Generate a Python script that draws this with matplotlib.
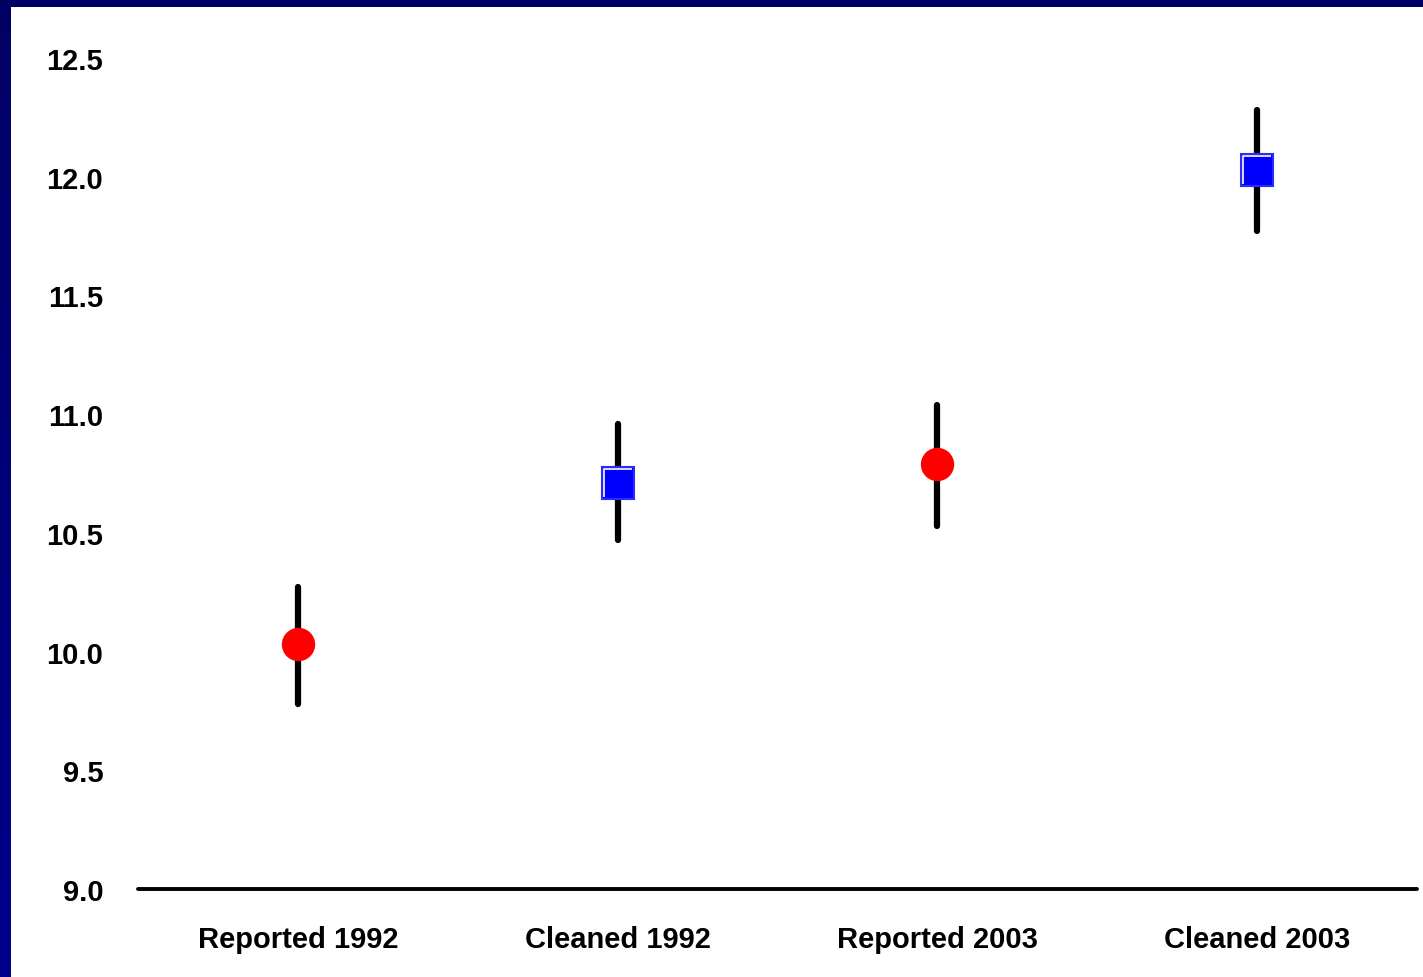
import matplotlib.pyplot as plt
import numpy as np
from matplotlib.path import Path
from matplotlib.patches import Rectangle
from matplotlib.colors import LinearSegmentedColormap

plt.rcParams['font.family'] = ['Liberation Sans', 'DejaVu Sans']
plt.rcParams['font.weight'] = 'bold'

# groups and estimates with the ends of each interval
groups = ['Reported 1992', 'Cleaned 1992', 'Reported 2003', 'Cleaned 2003']
means = [10.03, 10.71, 10.79, 12.03]
lower = [9.78, 10.47, 10.53, 11.77]
upper = [10.27, 10.96, 11.04, 12.28]
kinds = ['reported', 'cleaned', 'reported', 'cleaned']

yticks = [9.0, 9.5, 10.0, 10.5, 11.0, 11.5, 12.0, 12.5]

fig = plt.figure(figsize=(14.23, 9.78), dpi=100)

# navy frame with a slight vertical gradient
bg = fig.add_axes([0, 0, 1, 1], zorder=-10)
grad = np.linspace(0, 1, 256).reshape(-1, 1)
navy = LinearSegmentedColormap.from_list('navy', ['#000064', '#00008c'])
bg.imshow(grad, aspect='auto', cmap=navy, extent=[0, 1, 0, 1], origin='upper')
bg.set_axis_off()
fig.add_artist(Rectangle((11 / 1423, 0), 1 - 11 / 1423, 1 - 8 / 978,
                         transform=fig.transFigure, facecolor='white',
                         edgecolor='none', zorder=-5))

ax = fig.add_axes([138 / 1423, 88 / 978, (1417 - 138) / 1423, (890 - 59) / 978])
ax.set_facecolor('none')

bevel = Path([(-1, -1), (-1, 1), (1, 1)], [Path.MOVETO, Path.LINETO, Path.LINETO])

x = np.arange(len(groups)) + 0.5
for xi, m, lo, hi, k in zip(x, means, lower, upper, kinds):
    ax.plot([xi, xi], [lo, hi], color='black', lw=4.5, solid_capstyle='round',
            zorder=2, clip_on=False)
    if k == 'reported':
        ax.plot(xi, m, 'o', ms=23, color='#ff0000', mec='#ff0000', zorder=3,
                clip_on=False)
    else:
        ax.plot(xi, m, 's', ms=23.5, color='#0000ff', mec='#2b2bff', mew=1.5,
                zorder=3, clip_on=False)
        # light bevel on the top and left edges of the square
        ax.plot(xi, m, marker=bevel, ms=20, mfc='none', mec='white', mew=1.2,
                zorder=4, clip_on=False)

ax.set_xlim(0, 4)
ax.set_ylim(9.0, 12.5)
ax.set_xticks(x)
ax.set_xticklabels(groups, fontsize=21, fontweight='bold')
ax.set_yticks(yticks)
ax.set_yticklabels([f'{t:.1f}' for t in yticks], fontsize=21, fontweight='bold')
ax.tick_params(axis='both', length=0)
ax.tick_params(axis='y', pad=25)
ax.tick_params(axis='x', pad=26)

for side in ['top', 'right', 'left']:
    ax.spines[side].set_visible(False)
ax.spines['bottom'].set_linewidth(2.8)
ax.spines['bottom'].set_capstyle('round')

fig.savefig('out.png', dpi=100)
